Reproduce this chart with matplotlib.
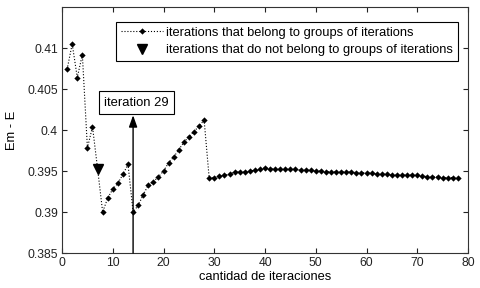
import numpy as np
import matplotlib.pyplot as plt
from matplotlib.lines import Line2D

# === DATA ===
iters = np.arange(1, 79)
em_e = [0.4074, 0.4105, 0.4064, 0.4092, 0.3978, 0.4004, 0.3953, 0.3900,
        0.3917, 0.3928, 0.3935, 0.3946, 0.3958, 0.3900, 0.3908, 0.3921,
        0.3933, 0.3937, 0.3943, 0.3950, 0.3960, 0.3967, 0.3976, 0.3985,
        0.3992, 0.3998, 0.4005, 0.4012, 0.3941, 0.3942, 0.3944, 0.3945,
        0.3946, 0.3949, 0.3949, 0.3949, 0.3950, 0.3951, 0.3952, 0.3954,
        0.3953, 0.3952, 0.3952, 0.3952, 0.3952, 0.3952, 0.3951, 0.3951,
        0.3951, 0.3950, 0.3950, 0.3949, 0.3949, 0.3949, 0.3949, 0.3949,
        0.3949, 0.3948, 0.3948, 0.3948, 0.3947, 0.3946, 0.3946, 0.3946,
        0.3945, 0.3945, 0.3945, 0.3945, 0.3945, 0.3945, 0.3944, 0.3943,
        0.3943, 0.3943, 0.3942, 0.3942, 0.3942, 0.3942]
outlier_x = [7]
outlier_y = [0.3953]
arrow_x = 14
arrow_top = 0.4018
label_text = "iteration 29"
xticks = [0, 10, 20, 30, 40, 50, 60, 70, 80]
yticks = [0.385, 0.39, 0.395, 0.4, 0.405, 0.41]
ytick_labels = ["0.385", "0.39", "0.395", "0.4", "0.405", "0.41"]

plt.rcParams['font.family'] = ['Liberation Sans', 'DejaVu Sans']

fig = plt.figure(figsize=(4.81, 2.88), dpi=100)
ax = fig.add_axes([0.129, 0.1215, 0.844, 0.8542])

# main series: small filled markers on a dotted line
pts = [i for i in range(len(iters)) if iters[i] not in outlier_x]
ax.plot(iters, em_e, ':', color='black', lw=0.8)
ax.plot(iters[pts], np.array(em_e)[pts], 'D', color='black', ms=3.2, mew=0)
ax.plot(outlier_x, outlier_y, 'v', color='black', ms=7)

# annotation arrow + text box
ax.annotate('', xy=(arrow_x, arrow_top), xytext=(arrow_x, 0.385),
            arrowprops=dict(arrowstyle='-|>,head_length=0.7,head_width=0.25',
                            color='black', lw=1.0, shrinkA=0, shrinkB=0))
ax.text(14.7, 0.4033, label_text, ha='center', va='center', fontsize=9.4,
        bbox=dict(boxstyle='square,pad=0.42', fc='white', ec='black', lw=0.8))

ax.set_xlim(0, 80)
ax.set_ylim(0.385, 0.415)
ax.set_xticks(xticks)
ax.set_yticks(yticks)
ax.set_yticklabels(ytick_labels)
ax.tick_params(direction='in', top=True, right=True, length=3.5,
               labelsize=8.7, colors='#222222', pad=3)
for s in ax.spines.values():
    s.set_color('#333333')
    s.set_linewidth(0.8)

ax.set_xlabel("cantidad de iteraciones", fontsize=9.3, labelpad=1)
ax.set_ylabel("Em - E", fontsize=9.3, labelpad=7)

h1 = Line2D([], [], ls=':', color='black', lw=0.8, marker='D', ms=3.2, mew=0)
h2 = Line2D([], [], ls='none', color='black', marker='v', ms=7)
leg = ax.legend([h1, h2],
                ["iterations that belong to groups of iterations",
                 "iterations that do not belong to groups of iterations"],
                loc='upper right', bbox_to_anchor=(0.975, 0.939), fontsize=9.3,
                fancybox=False, edgecolor='black', framealpha=1,
                handlelength=3.3, borderpad=0.35, labelspacing=0.45,
                handletextpad=0.25, borderaxespad=0)
leg.get_frame().set_linewidth(0.8)

fig.savefig('out.png', dpi=100)
